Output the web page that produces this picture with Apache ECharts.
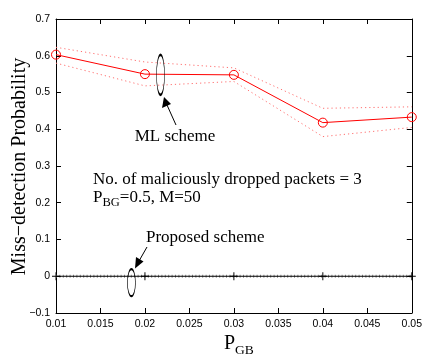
<!DOCTYPE html>
<html>
<head>
<meta charset="utf-8">
<script src="https://cdn.jsdelivr.net/npm/echarts@6/dist/echarts.min.js"></script>
<style>
  html, body { margin: 0; padding: 0; background: #fff; }
  #chart { width: 425px; height: 358px; }
</style>
</head>
<body>
<div id="chart"></div>
<script>
// P_GB values on the horizontal axis
var pGB = [0.01, 0.02, 0.03, 0.04, 0.05];
// ML scheme: mean miss-detection probability and its upper/lower bounds
var mlMean  = [0.603, 0.550, 0.548, 0.418, 0.433];
var mlUpper = [0.623, 0.583, 0.567, 0.457, 0.461];
var mlLower = [0.580, 0.518, 0.530, 0.380, 0.405];
// Proposed scheme: never misses a dropped packet
var proposed = [0, 0, 0, 0, 0];

var xTicks = { min: 0.01, max: 0.05, step: 0.005 };
var yTicks = { min: -0.1, max: 0.7, step: 0.1 };

function pairs(xs, ys) { return xs.map(function (x, i) { return [x, ys[i]]; }); }

var chart = echarts.init(document.getElementById('chart'), null, { renderer: 'canvas' });

var tickFont = { fontFamily: 'Liberation Sans', fontSize: 10.5, color: '#000' };
var serif = 'Liberation Serif';

function yFmt(v) {
  var r = Math.round(v * 10) / 10;
  if (r === 0) return '0';
  return (r < 0 ? '\u2212' : '') + Math.abs(r).toString();
}
function xFmt(v) { return String(Math.round(v * 1000) / 1000); }

var axisCommon = {
  type: 'value',
  axisLine: { show: true, onZero: false, lineStyle: { color: '#000', width: 1 } },
  axisTick: { show: true, inside: true, length: 5, lineStyle: { color: '#000' } },
  splitLine: { show: false }
};

var plusSymbol = 'path://M4.4,0h1.2v10h-1.2z M0,4.4h10v1.2h-10z';

var option = {
  backgroundColor: '#fff',
  animation: false,
  grid: { left: 56, right: 8, top: 19, bottom: 45, containLabel: false },
  xAxis: [
    Object.assign({}, axisCommon, {
      min: xTicks.min, max: xTicks.max, interval: xTicks.step, position: 'bottom',
      axisLabel: Object.assign({ margin: 6, formatter: xFmt,
        alignMinLabel: 'center', alignMaxLabel: 'center' }, tickFont)
    }),
    Object.assign({}, axisCommon, {
      min: xTicks.min, max: xTicks.max, interval: xTicks.step, position: 'top',
      axisLabel: { show: false }
    })
  ],
  yAxis: [
    Object.assign({}, axisCommon, {
      min: yTicks.min, max: yTicks.max, interval: yTicks.step, position: 'left',
      axisLabel: Object.assign({ margin: 6, formatter: yFmt }, tickFont)
    }),
    Object.assign({}, axisCommon, {
      min: yTicks.min, max: yTicks.max, interval: yTicks.step, position: 'right',
      axisLabel: { show: false }
    })
  ],
  series: [
    {
      name: 'ML upper', type: 'line', data: pairs(pGB, mlUpper),
      showSymbol: false, symbol: 'none',
      lineStyle: { color: '#ff7070', width: 1, type: [1.2, 3] }, z: 2
    },
    {
      name: 'ML lower', type: 'line', data: pairs(pGB, mlLower),
      showSymbol: false, symbol: 'none',
      lineStyle: { color: '#ff7070', width: 1, type: [1.2, 3] }, z: 2
    },
    {
      name: 'ML scheme', type: 'line', data: pairs(pGB, mlMean),
      symbol: 'circle', symbolSize: 9,
      lineStyle: { color: '#ff0000', width: 1 },
      itemStyle: { color: 'rgba(255,255,255,0)', borderColor: '#ff0000', borderWidth: 1 },
      z: 3,
      markPoint: {
        symbol: 'circle', symbolSize: [8, 40], silent: true,
        itemStyle: { color: 'rgba(0,0,0,0)', borderColor: '#000', borderWidth: 1.2 },
        label: { show: false },
        data: [{ coord: [0.02175, 0.548] }]
      }
    },
    {
      name: 'Proposed bounds', type: 'line', data: pairs(pGB, proposed),
      symbol: 'none',
      lineStyle: { color: '#888', width: 3, type: [1, 2.4] }, z: 3
    },
    {
      name: 'Proposed scheme', type: 'line', data: pairs(pGB, proposed),
      symbol: plusSymbol, symbolSize: 8, showAllSymbol: true,
      lineStyle: { color: '#000', width: 1 },
      itemStyle: { color: '#000' },
      z: 4,
      markPoint: {
        symbol: 'circle', symbolSize: [8, 27], silent: true,
        itemStyle: { color: 'rgba(0,0,0,0)', borderColor: '#000', borderWidth: 1.2 },
        label: { show: false },
        data: [{ coord: [0.01848, -0.0176] }]
      }
    }
  ],
  graphic: [
    // y-axis title
    {
      type: 'text', x: 20, y: 166.5, rotation: Math.PI / 2, z: 10,
      style: { text: 'Miss\u2212detection Probability', font: '20px "' + serif + '"',
               fill: '#000', align: 'center', verticalAlign: 'middle' }
    },
    // x-axis title P_GB
    {
      type: 'text', x: 224, y: 334, z: 10,
      style: {
        text: '{m|P}{s|GB}',
        rich: {
          m: { fontFamily: serif, fontSize: 20, fill: '#000', verticalAlign: 'top', lineHeight: 20 },
          s: { fontFamily: serif, fontSize: 13.5, fill: '#000', padding: [13, 0, 0, 0], lineHeight: 20 }
        }
      }
    },
    // annotation: ML scheme
    {
      type: 'text', x: 175, y: 137, z: 10,
      style: { text: 'ML scheme', font: '17px "' + serif + '"', fill: '#000',
               align: 'center', verticalAlign: 'middle' }
    },
    { type: 'line', z: 10, shape: { x1: 176, y1: 125, x2: 167, y2: 105 },
      style: { stroke: '#000', lineWidth: 1 } },
    { type: 'polygon', z: 10, shape: { points: [[164, 97], [162, 108], [171, 104]] },
      style: { fill: '#000' } },
    // annotation: parameters
    {
      type: 'text', x: 93, y: 180, z: 10,
      style: { text: 'No. of maliciously dropped packets = 3', font: '17px "' + serif + '"',
               fill: '#000', align: 'left', verticalAlign: 'middle' }
    },
    {
      type: 'text', x: 93, y: 189, z: 10,
      style: {
        text: '{m|P}{s|BG}{m|=0.5, M=50}',
        rich: {
          m: { fontFamily: serif, fontSize: 17, fill: '#000', lineHeight: 17, verticalAlign: 'top' },
          s: { fontFamily: serif, fontSize: 12.5, fill: '#000', padding: [11, 0, 0, 0], lineHeight: 17 }
        }
      }
    },
    // annotation: proposed scheme
    {
      type: 'text', x: 146, y: 238, z: 10,
      style: { text: 'Proposed scheme', font: '17px "' + serif + '"', fill: '#000',
               align: 'left', verticalAlign: 'middle' }
    },
    { type: 'line', z: 10, shape: { x1: 147, y1: 247, x2: 139, y2: 261 },
      style: { stroke: '#000', lineWidth: 1 } },
    { type: 'polygon', z: 10, shape: { points: [[135, 268.5], [136, 257], [143.5, 261.5]] },
      style: { fill: '#000' } }
  ]
};

chart.setOption(option);
</script>
</body>
</html>
